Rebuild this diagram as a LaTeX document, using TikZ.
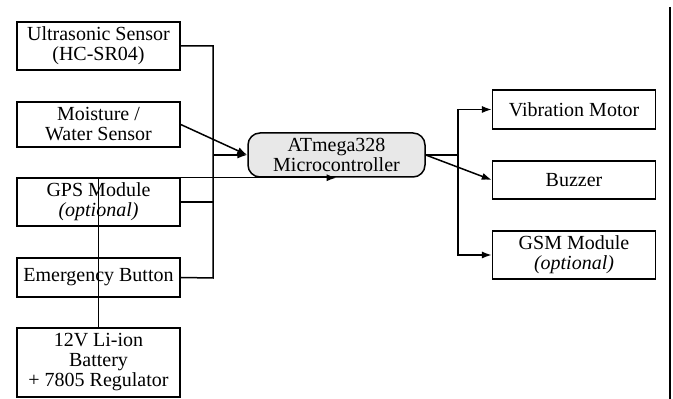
\documentclass[tikz,border=0pt]{standalone}
\usepackage{fontspec}
\setmainfont{Liberation Serif}
\usepackage{xcolor}
\definecolor{mcugray}{RGB}{232, 232, 232}
\usetikzlibrary{arrows.meta, positioning}
\begin{document}
\begin{tikzpicture}[x=0.5pt, y=-0.5pt, line width=0.75pt,
		every node/.style={font=\fontsize{10}{10}\selectfont, align=center},
		blk/.style={draw, minimum width=81.5pt, inner sep=1pt},
		mcubox/.style={draw, rounded corners=6pt, fill=mcugray, minimum width=88.5pt, minimum height=22pt, inner sep=1pt},
		arr/.style={-{Latex[length=5pt, width=3.6pt]}}]
		\useasboundingbox (0,0) rectangle (673,399);
		\node[blk, minimum height=24pt] (ultra) at (98.5,46) {Ultrasonic Sensor\\(HC-SR04)};
		\node[blk, minimum height=22.5pt] (moist) at (98.5,124.5) {Moisture /\\Water Sensor};
		\node[blk, minimum height=24pt] (gps) at (98.5,202) {GPS Module\\\textit{(optional)}};
		\node[blk, minimum height=19.5pt] (emerg) at (98.5,277.5) {Emergency Button};
		\node[blk, minimum height=34.5pt] (batt) at (98.5,362.5) {12V Li-ion\\Battery\\+ 7805 Regulator};
		\node[mcubox] (mcu) at (336.5,155) {ATmega328\\Microcontroller};
		\node[blk, minimum height=19.5pt] (vib) at (574,109.5) {Vibration Motor};
		\node[blk, minimum height=19pt] (buzz) at (574,180) {Buzzer};
		\node[blk, minimum height=24pt] (gsm) at (574,255) {GSM Module\\\textit{(optional)}};
		\coordinate (ltop) at (213,46);
		\coordinate (lbot) at (213,278);
		\coordinate (rsplit) at (458,155);
		\draw (ultra.east) -- (ltop) -- (lbot) -- (emerg.east);
		\draw (gps.east) -- (gps.east -| ltop);
		\draw[arr] (ltop |- mcu.west) -- (mcu.west);
		\draw[arr] (moist.east) -- (mcu.west);
		\draw[arr] (batt.north) |- (mcu.south);
		\draw (mcu.east) -- (rsplit);
		\draw[arr] (rsplit) |- (vib.west);
		\draw[arr] (rsplit) |- (gsm.west);
		\draw[arr] (mcu.east) -- (buzz.west);
		\draw (670,7) -- (670,399);
	\end{tikzpicture}
\end{document}
